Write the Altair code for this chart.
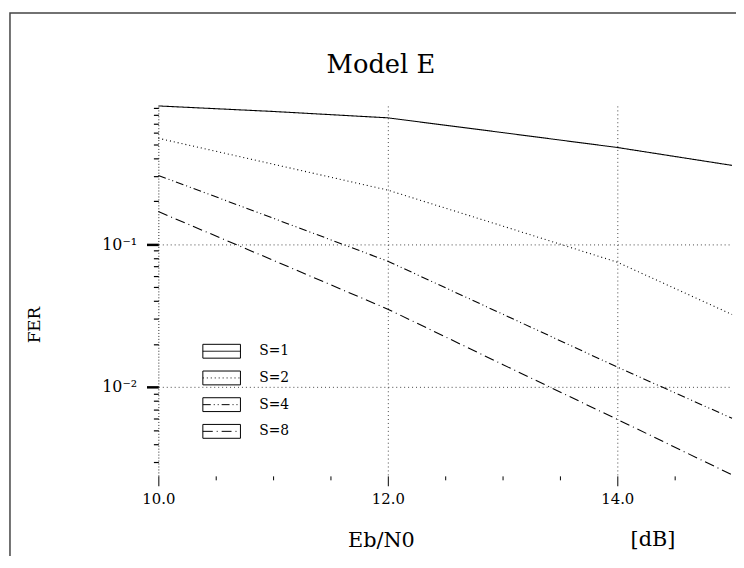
import altair as alt
import pandas as pd

# ---------------- data ----------------
title_text = "Model E"
x_title = "Eb/N0"
x_unit = "[dB]"
y_title = "FER"

ebn0 = [10, 11, 12, 13, 14, 15]
series_names = ["S=1", "S=2", "S=4", "S=8"]
fer_s1 = [0.928, 0.849, 0.766, 0.604, 0.475, 0.356]
fer_s2 = [0.551, 0.363, 0.239, 0.134, 0.0748, 0.0322]
fer_s4 = [0.303, 0.152, 0.0760, 0.0324, 0.0138, 0.00604]
fer_s8 = [0.169, 0.0772, 0.0351, 0.0144, 0.00594, 0.00243]

x_domain = [10, 15]
y_domain = [0.00239, 0.928]

x_tick_values = [10, 10.5, 11, 11.5, 12, 12.5, 13, 13.5, 14, 14.5]
x_major = [10, 12, 14]
x_grid = [12, 14]
y_tick_values = [0.9, 0.8, 0.7, 0.6, 0.5, 0.4, 0.3, 0.2, 0.1,
                 0.09, 0.08, 0.07, 0.06, 0.05, 0.04, 0.03, 0.02, 0.01,
                 0.009, 0.008, 0.007, 0.006, 0.005, 0.004, 0.003]
y_major = [0.1, 0.01]
y_major_labels = ["10⁻¹", "10⁻²"]

dash_patterns = [[1, 0], [1, 3], [8, 3, 1, 3, 1, 3], [10, 4, 1, 4]]

# ---------------- tables ----------------
rows = []
for name, vals in zip(series_names, [fer_s1, fer_s2, fer_s4, fer_s8]):
    for x, v in zip(ebn0, vals):
        rows.append({"series": name, "ebn0": x, "fer": v})
df = pd.DataFrame(rows)
legend_df = pd.DataFrame({"series": series_names, "idx": list(range(len(series_names)))})
frame_df = pd.DataFrame({"k": [0]})
unit_df = pd.DataFrame({"label": [x_unit]})
title_df = pd.DataFrame({"label": [title_text]})

W, H = 580, 374
FONT = "DejaVu Serif"


def in_list(vals):
    return "indexof([" + ",".join(str(v) for v in vals) + "], datum.value) >= 0"


y_label_expr = ""
for v, lab in zip(y_major, y_major_labels):
    y_label_expr += f"datum.value == {v} ? '{lab}' : "
y_label_expr += "''"

x_axis = alt.Axis(
    values=x_tick_values,
    labelExpr=in_list(x_major) + " ? format(datum.value, '.1f') : ''",
    domain=False,
    tickColor="black",
    tickSize={"condition": {"test": in_list(x_major), "value": 10}, "value": 4},
    tickWidth=1,
    grid=True,
    gridDash=[1, 3],
    gridColor="#444",
    gridWidth=1,
    gridOpacity={"condition": {"test": in_list(x_grid), "value": 1}, "value": 0},
    labelFont=FONT,
    labelFontSize=15,
    labelColor="black",
    labelPadding=6,
    labelFlush=False,
    title=x_title,
    titleFont=FONT,
    titleFontSize=21,
    titleFontWeight="normal",
    titleColor="black",
    titleX=225,
    titleY=65,
    titleAlign="center",
    titleBaseline="middle",
)

y_axis = alt.Axis(
    values=y_tick_values,
    labelExpr=y_label_expr,
    domain=True,
    domainDash=[1, 2],
    domainColor="#222",
    domainWidth=1,
    tickColor="black",
    tickSize={"condition": {"test": in_list(y_major), "value": 12}, "value": 5},
    tickWidth={"condition": {"test": in_list(y_major), "value": 2.5}, "value": 1.2},
    grid=True,
    gridDash=[1, 3],
    gridColor="#444",
    gridWidth=1,
    gridOpacity={"condition": {"test": in_list(y_major), "value": 1}, "value": 0},
    labelFont=FONT,
    labelFontSize=16,
    labelColor="black",
    labelPadding=10,
    labelFlush=False,
    title=y_title,
    titleFont=FONT,
    titleFontSize=17,
    titleFontWeight="normal",
    titleColor="black",
    titleX=-125,
    titleY=221,
    titleAlign="center",
    titleBaseline="middle",
)

dash_scale = alt.Scale(domain=series_names, range=dash_patterns)

frame = alt.Chart(frame_df).mark_rect(
    fillOpacity=0, stroke="#444", strokeWidth=1.5
).encode(
    x=alt.value(-150), x2=alt.value(900), y=alt.value(-94), y2=alt.value(900)
)

title_mark = alt.Chart(title_df).mark_text(
    align="center", baseline="middle", font=FONT, fontSize=26, color="black"
).encode(x=alt.value(225), y=alt.value(-41), text="label:N")

lines = alt.Chart(df).mark_line(color="black", strokeWidth=1.1).encode(
    x=alt.X("ebn0:Q", scale=alt.Scale(domain=x_domain, nice=False, zero=False), axis=x_axis),
    y=alt.Y("fer:Q", scale=alt.Scale(type="log", domain=y_domain, nice=False), axis=y_axis),
    strokeDash=alt.StrokeDash("series:N", scale=dash_scale, legend=None),
)

leg_y = alt.Y("idx:Q", scale=alt.Scale(domain=[0, len(series_names) - 1], range=[248, 329]), axis=None)

leg_box = alt.Chart(legend_df).mark_rect(
    fillOpacity=0, stroke="black", strokeWidth=1, height=14
).encode(x=alt.value(45), x2=alt.value(83), y=leg_y)

leg_line = alt.Chart(legend_df).mark_rule(color="black", strokeWidth=1).encode(
    x=alt.value(45), x2=alt.value(83), y=leg_y,
    strokeDash=alt.StrokeDash("series:N", scale=dash_scale, legend=None),
)

leg_text = alt.Chart(legend_df).mark_text(
    align="left", baseline="middle", font=FONT, fontSize=14, color="black"
).encode(x=alt.value(102), y=leg_y, text="series:N")

unit_text = alt.Chart(unit_df).mark_text(
    align="center", baseline="middle", font=FONT, fontSize=21, color="black"
).encode(x=alt.value(500), y=alt.value(439), text="label:N")

chart = alt.layer(frame, title_mark, lines, leg_box, leg_line, leg_text, unit_text).resolve_scale(
    y="independent"
).properties(
    width=W,
    height=H,
    autosize=alt.AutoSizeParams(type="none"),
    padding={"left": 152, "top": 96, "right": 4, "bottom": 78},
    background="white",
).configure_view(stroke=None)

chart.save("out.html", embed_options={"renderer": "svg", "actions": False})
